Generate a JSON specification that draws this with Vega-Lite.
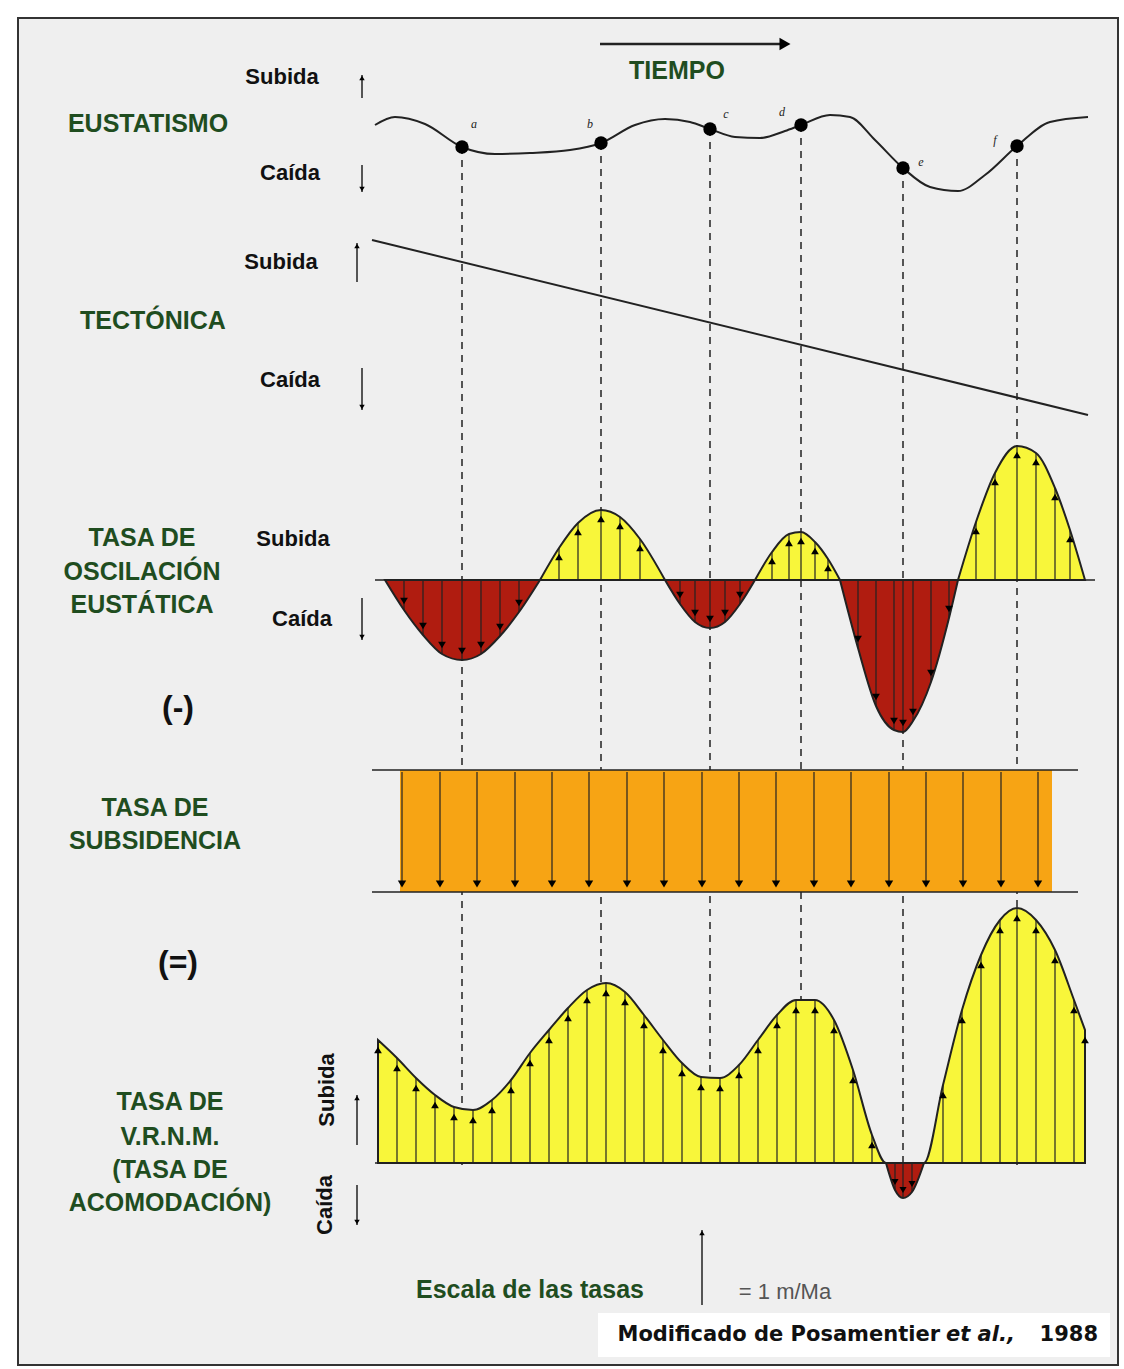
{
  "$schema": "https://vega.github.io/schema/vega-lite/v6.json",
  "width": 1124,
  "height": 1369,
  "autosize": {"type": "fit", "contains": "padding"},
  "padding": 0,
  "background": "white",
  "config": {"view": {"stroke": null}, "font": "Liberation Sans"},
  "datasets": {
    "dots": [{"x":462,"y":147,"l":"a"},{"x":601,"y":143,"l":"b"},{"x":710,"y":129,"l":"c"},{"x":801,"y":125,"l":"d"},{"x":903,"y":168,"l":"e"},{"x":1017,"y":146,"l":"f"}],
    "eust": [{"x":375,"y":125},{"x":395,"y":117},{"x":425,"y":124},{"x":462,"y":147},{"x":495,"y":154},{"x":530,"y":153},{"x":570,"y":150},{"x":601,"y":143},{"x":635,"y":125},{"x":665,"y":119},{"x":690,"y":122},{"x":710,"y":129},{"x":735,"y":137},{"x":760,"y":138},{"x":785,"y":131},{"x":801,"y":125},{"x":830,"y":115},{"x":850,"y":117},{"x":875,"y":140},{"x":903,"y":168},{"x":930,"y":187},{"x":958,"y":191},{"x":985,"y":175},{"x":1017,"y":146},{"x":1050,"y":122},{"x":1088,"y":117}],
    "lobes": [
      {"k":1,"c":"#b01c10","x":385,"y":580},{"k":1,"c":"#b01c10","x":404,"y":610},{"k":1,"c":"#b01c10","x":423,"y":635},{"k":1,"c":"#b01c10","x":442,"y":654},{"k":1,"c":"#b01c10","x":462,"y":660},{"k":1,"c":"#b01c10","x":481,"y":654},{"k":1,"c":"#b01c10","x":500,"y":636},{"k":1,"c":"#b01c10","x":519,"y":612},{"k":1,"c":"#b01c10","x":540,"y":580},
      {"k":2,"c":"#f8f63a","x":540,"y":580},{"k":2,"c":"#f8f63a","x":559,"y":548},{"k":2,"c":"#f8f63a","x":578,"y":523},{"k":2,"c":"#f8f63a","x":601,"y":510},{"k":2,"c":"#f8f63a","x":620,"y":517},{"k":2,"c":"#f8f63a","x":640,"y":539},{"k":2,"c":"#f8f63a","x":665,"y":580},
      {"k":3,"c":"#b01c10","x":665,"y":580},{"k":3,"c":"#b01c10","x":680,"y":604},{"k":3,"c":"#b01c10","x":695,"y":622},{"k":3,"c":"#b01c10","x":710,"y":628},{"k":3,"c":"#b01c10","x":725,"y":622},{"k":3,"c":"#b01c10","x":740,"y":604},{"k":3,"c":"#b01c10","x":755,"y":580},
      {"k":4,"c":"#f8f63a","x":755,"y":580},{"k":4,"c":"#f8f63a","x":772,"y":552},{"k":4,"c":"#f8f63a","x":789,"y":534},{"k":4,"c":"#f8f63a","x":801,"y":532},{"k":4,"c":"#f8f63a","x":815,"y":542},{"k":4,"c":"#f8f63a","x":828,"y":559},{"k":4,"c":"#f8f63a","x":840,"y":580},
      {"k":5,"c":"#b01c10","x":840,"y":580},{"k":5,"c":"#b01c10","x":858,"y":648},{"k":5,"c":"#b01c10","x":876,"y":706},{"k":5,"c":"#b01c10","x":894,"y":730},{"k":5,"c":"#b01c10","x":903,"y":732},{"k":5,"c":"#b01c10","x":913,"y":721},{"k":5,"c":"#b01c10","x":931,"y":682},{"k":5,"c":"#b01c10","x":949,"y":618},{"k":5,"c":"#b01c10","x":958,"y":580},
      {"k":6,"c":"#f8f63a","x":958,"y":580},{"k":6,"c":"#f8f63a","x":976,"y":522},{"k":6,"c":"#f8f63a","x":995,"y":473},{"k":6,"c":"#f8f63a","x":1017,"y":446},{"k":6,"c":"#f8f63a","x":1036,"y":453},{"k":6,"c":"#f8f63a","x":1055,"y":488},{"k":6,"c":"#f8f63a","x":1070,"y":530},{"k":6,"c":"#f8f63a","x":1085,"y":580}
    ],
    "vy": [{"x":378,"y":1040},{"x":397,"y":1058},{"x":416,"y":1078},{"x":435,"y":1095},{"x":454,"y":1107},{"x":473,"y":1110},{"x":492,"y":1100},{"x":511,"y":1080},{"x":530,"y":1053},{"x":549,"y":1030},{"x":568,"y":1008},{"x":587,"y":990},{"x":606,"y":983},{"x":625,"y":992},{"x":644,"y":1015},{"x":663,"y":1040},{"x":682,"y":1063},{"x":701,"y":1077},{"x":720,"y":1078},{"x":739,"y":1065},{"x":758,"y":1040},{"x":777,"y":1015},{"x":796,"y":1000},{"x":815,"y":1000},{"x":834,"y":1020},{"x":853,"y":1070},{"x":872,"y":1135},{"x":886,"y":1163},{"x":924,"y":1163},{"x":943,"y":1085},{"x":962,"y":1010},{"x":981,"y":955},{"x":1000,"y":920},{"x":1017,"y":908},{"x":1036,"y":920},{"x":1055,"y":950},{"x":1074,"y":1000},{"x":1085,"y":1030}],
    "vr": [{"x":886,"y":1163},{"x":895,"y":1190},{"x":903,"y":1198},{"x":912,"y":1192},{"x":924,"y":1163}],
    "subs": [{"x":402,"y":772,"y2":884},{"x":440,"y":772,"y2":884},{"x":477,"y":772,"y2":884},{"x":515,"y":772,"y2":884},{"x":552,"y":772,"y2":884},{"x":589,"y":772,"y2":884},{"x":627,"y":772,"y2":884},{"x":664,"y":772,"y2":884},{"x":702,"y":772,"y2":884},{"x":739,"y":772,"y2":884},{"x":776,"y":772,"y2":884},{"x":814,"y":772,"y2":884},{"x":851,"y":772,"y2":884},{"x":889,"y":772,"y2":884},{"x":926,"y":772,"y2":884},{"x":963,"y":772,"y2":884},{"x":1001,"y":772,"y2":884},{"x":1038,"y":772,"y2":884}],
    "arrowsUp": [{"x":362,"y":75,"y2":98},{"x":357,"y":243,"y2":282},{"x":357,"y":1095,"y2":1145},{"x":702,"y":1230,"y2":1305}],
    "arrowsDown": [{"x":362,"y":192,"y2":165},{"x":362,"y":410,"y2":368},{"x":362,"y":640,"y2":598},{"x":357,"y":1225,"y2":1185}]
  },
  "encoding": {
    "x": {"field": "x", "type": "quantitative", "scale": {"domain": [0, 1124], "nice": false, "zero": false}, "axis": null},
    "y": {"field": "y", "type": "quantitative", "scale": {"domain": [0, 1369], "reverse": true, "nice": false, "zero": false}, "axis": null}
  },
  "layer": [
    {"data": {"values": [{"x":18,"x2":1118,"y":18,"y2":1365}]}, "mark": {"type":"rect","fill":"#efefef","stroke":"#333","strokeWidth":2},
     "encoding": {"x2":{"field":"x2"},"y2":{"field":"y2"}}},
    {"data": {"name": "dots"}, "mark": {"type":"rule","strokeDash":[7,6],"color":"#222","strokeWidth":1.5},
     "encoding": {"y2":{"datum":1165}}},
    {"data": {"name": "eust"}, "mark": {"type":"line","interpolate":"monotone","color":"#222","strokeWidth":2}},
    {"data": {"name": "dots"}, "mark": {"type":"point","filled":true,"color":"black","size":180,"opacity":1}},
    {"data": {"values": [{"x":474,"y":124,"t":"a"},{"x":590,"y":124,"t":"b"},{"x":726,"y":114,"t":"c"},{"x":782,"y":112,"t":"d"},{"x":921,"y":162,"t":"e"},{"x":995,"y":140,"t":"f"}]},
     "mark": {"type":"text","fontStyle":"italic","fontSize":12,"font":"Liberation Serif","color":"#222"}, "encoding": {"text":{"field":"t"}}},
    {"data": {"values": [{"x":372,"y":240},{"x":1088,"y":415}]}, "mark": {"type":"line","color":"#222","strokeWidth":2}},
    {"data": {"name": "lobes"}, "mark": {"type":"area","interpolate":"monotone","stroke":"#222","strokeWidth":2,"opacity":1},
     "encoding": {"y2":{"datum":580},"detail":{"field":"k"},"fill":{"field":"c","type":"nominal","scale":null}}},
    {"data": {"name": "lobes"}, "mark": {"type":"rule","color":"#222","strokeWidth":1.2}, "encoding": {"y2":{"datum":580}}},
    {"data": {"name": "lobes"}, "transform": [{"filter":"datum.y < 575"}], "mark": {"type":"point","shape":"triangle-up","filled":true,"color":"black","size":60,"yOffset":9,"opacity":1}},
    {"data": {"name": "lobes"}, "transform": [{"filter":"datum.y > 585"}], "mark": {"type":"point","shape":"triangle-down","filled":true,"color":"black","size":60,"yOffset":-9,"opacity":1}},
    {"data": {"values": [{"x":375,"x2":1095,"y":580}]}, "mark": {"type":"rule","color":"#222","strokeWidth":1.5}, "encoding": {"x2":{"field":"x2"}}},
    {"data": {"values": [{"x":400,"x2":1052,"y":770,"y2":892}]}, "mark": {"type":"rect","fill":"#f7a414"}, "encoding": {"x2":{"field":"x2"},"y2":{"field":"y2"}}},
    {"data": {"values": [{"x":372,"x2":1078,"y":770},{"x":372,"x2":1078,"y":892}]}, "mark": {"type":"rule","color":"#222","strokeWidth":1.5}, "encoding": {"x2":{"field":"x2"}}},
    {"data": {"name": "subs"}, "mark": {"type":"rule","color":"#222","strokeWidth":1.2}, "encoding": {"y2":{"field":"y2"}}},
    {"data": {"name": "subs"}, "mark": {"type":"point","shape":"triangle-down","filled":true,"color":"black","size":70,"opacity":1}, "encoding": {"y":{"field":"y2"}}},
    {"data": {"name": "vy"}, "mark": {"type":"area","interpolate":"monotone","fill":"#f8f63a","stroke":"#222","strokeWidth":2,"opacity":1}, "encoding": {"y2":{"datum":1163}}},
    {"data": {"name": "vr"}, "mark": {"type":"area","interpolate":"monotone","fill":"#b01c10","stroke":"#222","strokeWidth":2,"opacity":1}, "encoding": {"y2":{"datum":1163}}},
    {"data": {"name": "vy"}, "mark": {"type":"rule","color":"#222","strokeWidth":1.2}, "encoding": {"y2":{"datum":1163}}},
    {"data": {"name": "vr"}, "mark": {"type":"rule","color":"#222","strokeWidth":1.2}, "encoding": {"y2":{"datum":1163}}},
    {"data": {"name": "vy"}, "transform": [{"filter":"datum.y < 1150"}], "mark": {"type":"point","shape":"triangle-up","filled":true,"color":"black","size":60,"yOffset":10,"opacity":1}},
    {"data": {"name": "vr"}, "transform": [{"filter":"datum.y > 1180"}], "mark": {"type":"point","shape":"triangle-down","filled":true,"color":"black","size":50,"yOffset":-8,"opacity":1}},
    {"data": {"values": [{"x":375,"x2":1085,"y":1163}]}, "mark": {"type":"rule","color":"#222","strokeWidth":1.5}, "encoding": {"x2":{"field":"x2"}}},
    {"data": {"name": "arrowsUp"}, "mark": {"type":"rule","color":"#222","strokeWidth":1.5}, "encoding": {"y2":{"field":"y2"}}},
    {"data": {"name": "arrowsUp"}, "mark": {"type":"point","shape":"triangle-up","filled":true,"color":"black","size":30,"opacity":1,"yOffset":3}},
    {"data": {"name": "arrowsDown"}, "mark": {"type":"rule","color":"#222","strokeWidth":1.5}, "encoding": {"y2":{"field":"y2"}}},
    {"data": {"name": "arrowsDown"}, "mark": {"type":"point","shape":"triangle-down","filled":true,"color":"black","size":30,"opacity":1,"yOffset":-3}},
    {"data": {"values": [{"x":600,"x2":782,"y":44}]}, "mark": {"type":"rule","color":"#222","strokeWidth":2.5}, "encoding": {"x2":{"field":"x2"}}},
    {"data": {"values": [{"x":785,"y":44}]}, "mark": {"type":"point","shape":"triangle-right","filled":true,"color":"black","size":160,"opacity":1}},
    {"data": {"values": [{"x":148,"y":124,"t":"EUSTATISMO"},{"x":153,"y":321,"t":"TECTÓNICA"},{"x":142,"y":538,"t":"TASA DE"},{"x":142,"y":572,"t":"OSCILACIÓN"},{"x":142,"y":605,"t":"EUSTÁTICA"},{"x":155,"y":808,"t":"TASA DE"},{"x":155,"y":841,"t":"SUBSIDENCIA"},{"x":170,"y":1102,"t":"TASA DE"},{"x":170,"y":1137,"t":"V.R.N.M."},{"x":170,"y":1170,"t":"(TASA DE"},{"x":170,"y":1203,"t":"ACOMODACIÓN)"},{"x":677,"y":71,"t":"TIEMPO"}]},
     "mark": {"type":"text","fontWeight":"bold","fontSize":25,"color":"#1f4d1f","baseline":"middle"}, "encoding": {"text":{"field":"t"}}},
    {"data": {"values": [{"x":530,"y":1290,"t":"Escala de las tasas"}]},
     "mark": {"type":"text","fontWeight":"bold","fontSize":25,"color":"#1f4d1f","baseline":"middle"}, "encoding": {"text":{"field":"t"}}},
    {"data": {"values": [{"x":282,"y":77,"t":"Subida"},{"x":290,"y":173,"t":"Caída"},{"x":281,"y":262,"t":"Subida"},{"x":290,"y":380,"t":"Caída"},{"x":293,"y":539,"t":"Subida"},{"x":302,"y":619,"t":"Caída"}]},
     "mark": {"type":"text","fontWeight":"bold","fontSize":22,"color":"#111","baseline":"middle"}, "encoding": {"text":{"field":"t"}}},
    {"data": {"values": [{"x":178,"y":708,"t":"(-)"},{"x":178,"y":963,"t":"(=)"}]},
     "mark": {"type":"text","fontWeight":"bold","fontSize":32,"color":"#111","baseline":"middle"}, "encoding": {"text":{"field":"t"}}},
    {"data": {"values": [{"x":327,"y":1090,"t":"Subida"},{"x":325,"y":1205,"t":"Caída"}]},
     "mark": {"type":"text","fontWeight":"bold","fontSize":22,"color":"#111","baseline":"middle","angle":270}, "encoding": {"text":{"field":"t"}}},
    {"data": {"values": [{"x":785,"y":1292,"t":"= 1 m/Ma"}]},
     "mark": {"type":"text","fontSize":22,"color":"#555","baseline":"middle"}, "encoding": {"text":{"field":"t"}}},
    {"data": {"values": [{"x":598,"x2":1110,"y":1313,"y2":1357}]}, "mark": {"type":"rect","fill":"white"}, "encoding": {"x2":{"field":"x2"},"y2":{"field":"y2"}}},
    {"data": {"values": [{"x":940,"y":1335,"t":"Modificado de Posamentier"}]},
     "mark": {"type":"text","font":"DejaVu Sans","fontWeight":"bold","fontSize":21,"color":"#111","align":"right","baseline":"middle"}, "encoding": {"text":{"field":"t"}}},
    {"data": {"values": [{"x":946,"y":1335,"t":"et al.,"}]},
     "mark": {"type":"text","font":"DejaVu Sans","fontWeight":"bold","fontStyle":"italic","fontSize":21,"color":"#111","align":"left","baseline":"middle"}, "encoding": {"text":{"field":"t"}}},
    {"data": {"values": [{"x":1098,"y":1335,"t":"1988"}]},
     "mark": {"type":"text","font":"DejaVu Sans","fontWeight":"bold","fontSize":21,"color":"#111","align":"right","baseline":"middle"}, "encoding": {"text":{"field":"t"}}}
  ]
}
